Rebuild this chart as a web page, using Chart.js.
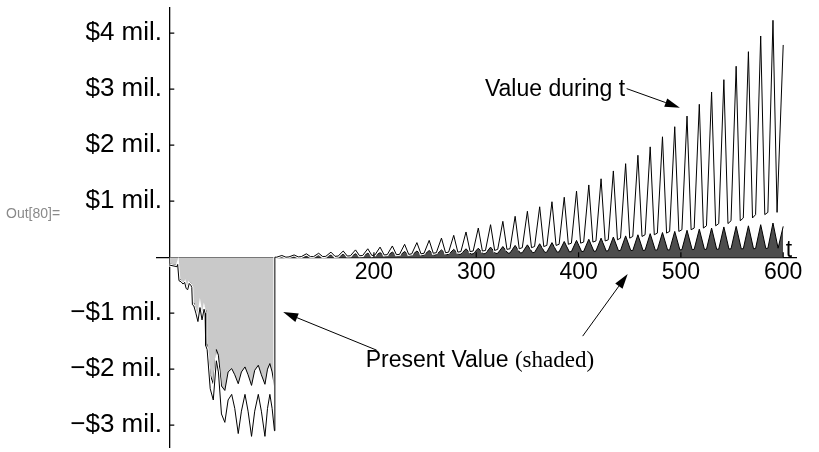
<!DOCTYPE html>
<html><head><meta charset="utf-8">
<script src="https://cdn.jsdelivr.net/npm/chart.js@4.4.1/dist/chart.umd.min.js"></script>
<style>
html,body{margin:0;padding:0;background:#fff;overflow:hidden}
#wrap{position:relative;width:819px;height:452px}
#out{position:absolute;left:6px;top:205px;font:14px "Liberation Sans",Arial,sans-serif;color:#8a8a8a}
canvas{position:absolute;left:0;top:0}
</style></head><body>
<div id="wrap"><canvas id="c" width="819" height="452"></canvas><div id="out">Out[80]=</div></div>
<script>
// ---- data (values in $ millions, t in periods) ----
// negative (start-up) phase
const negT = [0, 7.5, 8.2, 9.5, 11.5, 13.5, 15, 16.5, 18, 19.5, 21, 22, 22.6, 24, 26, 28, 30, 32, 34, 35, 35.6, 37, 40, 43, 46, 48, 51, 54.3, 57.5, 61, 64, 67.4, 70.5, 74, 77, 80.4, 83.5, 87, 90, 93.5, 96, 98.3, 100.5, 102.8];
const negPV = [-0.12, -0.15, -0.11, -0.38, -0.41, -0.45, -0.42, -0.52, -0.54, -0.44, -0.47, -0.50, -0.80, -0.82, -0.95, -1.10, -0.85, -1.05, -0.88, -0.95, -1.50, -1.57, -2.10, -2.26, -1.65, -1.75, -2.30, -2.38, -2.05, -1.99, -2.10, -2.26, -2.05, -1.96, -2.10, -2.29, -2.02, -1.93, -2.10, -2.27, -2.00, -1.90, -2.05, -2.30];
const negValue = [-0.14, -0.17, -0.13, -0.42, -0.44, -0.48, -0.45, -0.56, -0.58, -0.47, -0.50, -0.54, -0.85, -0.87, -1.00, -1.15, -0.90, -1.12, -0.93, -1.00, -1.58, -1.65, -2.35, -2.55, -1.85, -2.05, -2.80, -2.95, -2.55, -2.45, -2.70, -3.15, -2.75, -2.45, -2.75, -3.20, -2.75, -2.45, -2.75, -3.20, -2.70, -2.45, -2.70, -3.10];
const jumpT = 103.2;
// positive phase: one peak per cycle
const peakT = [110, 122, 134, 146, 158, 170, 182, 194, 206, 218, 230, 242, 254, 266, 278, 290, 302, 314, 326, 338, 350, 362, 374, 386, 398, 410, 422, 434, 446, 458, 470, 482, 494, 506, 518, 530, 542, 554, 566, 578, 590];
const valuePeak = [0.03, 0.04, 0.06, 0.07, 0.09, 0.11, 0.13, 0.15, 0.18, 0.20, 0.23, 0.26, 0.30, 0.34, 0.39, 0.45, 0.52, 0.58, 0.64, 0.73, 0.82, 0.90, 0.99, 1.07, 1.18, 1.29, 1.40, 1.54, 1.67, 1.82, 1.97, 2.15, 2.33, 2.52, 2.73, 2.95, 3.17, 3.41, 3.67, 3.95, 4.23];
const valueTrough = [0.0, 0.005, 0.01, 0.01, 0.015, 0.02, 0.025, 0.03, 0.04, 0.045, 0.05, 0.06, 0.07, 0.08, 0.09, 0.10, 0.11, 0.12, 0.14, 0.15, 0.17, 0.19, 0.21, 0.23, 0.25, 0.27, 0.29, 0.31, 0.34, 0.37, 0.40, 0.43, 0.46, 0.49, 0.52, 0.56, 0.60, 0.65, 0.70, 0.76, 0.80];
const pvPeak = [0.01, 0.015, 0.02, 0.03, 0.04, 0.05, 0.06, 0.07, 0.08, 0.09, 0.10, 0.11, 0.12, 0.13, 0.14, 0.15, 0.16, 0.18, 0.19, 0.21, 0.22, 0.24, 0.26, 0.28, 0.30, 0.32, 0.34, 0.36, 0.38, 0.40, 0.42, 0.44, 0.46, 0.48, 0.50, 0.52, 0.54, 0.55, 0.56, 0.58, 0.61];
const pvTrough = [0.0, 0.0, 0.005, 0.01, 0.01, 0.015, 0.02, 0.02, 0.025, 0.03, 0.03, 0.035, 0.04, 0.045, 0.05, 0.055, 0.06, 0.065, 0.07, 0.075, 0.08, 0.085, 0.09, 0.095, 0.10, 0.105, 0.11, 0.115, 0.12, 0.12, 0.125, 0.13, 0.13, 0.135, 0.14, 0.14, 0.145, 0.15, 0.15, 0.155, 0.16];
const endT = 600;
const endValue = 3.79;
const endPV = 0.55;
// axes
const xTickValues = [200, 300, 400, 500, 600];
const xTickLabels = ['200', '300', '400', '500', '600'];
const yTickValues = [-3, -2, -1, 1, 2, 3, 4];
const yTickLabels = ['\u2212$3 mil.', '\u2212$2 mil.', '\u2212$1 mil.', '$1 mil.', '$2 mil.', '$3 mil.', '$4 mil.'];
const xAxisName = 't';
// annotations (each label is a list of [text, serif?] runs)
const annoTexts = [[['Value during t', false]], [['Present Value ', false], ['(shaded)', true]]];
const annoTextT = [308.5, 192];
const annoTextV = [2.87, -1.96];
const arrowFromT = [447, 202.6, 404];
const arrowFromV = [3.01, -1.66, -1.41];
const arrowToT = [499, 111.3, 448];
const arrowToV = [2.67, -0.98, -0.30];

// ---- build tables ----
function buildSeries(negY, peaks, troughs, rise, fall, endY) {
  const pts = negT.map((t, i) => ({x: t, y: negY[i]}));
  pts.push({x: jumpT, y: 0});
  peakT.forEach((tp, i) => {
    pts.push({x: tp - rise, y: troughs[i]});
    pts.push({x: tp, y: peaks[i]});
    pts.push({x: tp + fall, y: troughs[i]});
  });
  pts.push({x: endT, y: endY});
  return pts;
}
const valueData = buildSeries(negValue, valuePeak, valueTrough, 5, 4, endValue);
const pvData = buildSeries(negPV, pvPeak, pvTrough, 5, 5, endPV);

const FONT = '"Liberation Sans", Arial, Helvetica, sans-serif';
const SERIF = '"Liberation Serif", "Times New Roman", serif';
Chart.defaults.font.family = FONT;
Chart.defaults.font.size = 23;
Chart.defaults.color = '#000';

const zeroPad = s => { s.paddingLeft = 0; s.paddingRight = 0; s.paddingTop = 0; s.paddingBottom = 0; };

const decor = {
  id: 'decor',
  afterDraw(chart) {
    const ctx = chart.ctx, xs = chart.scales.x, ys = chart.scales.y;
    const x0 = xs.getPixelForValue(0), y0 = ys.getPixelForValue(0);
    ctx.save();
    ctx.strokeStyle = '#000';
    ctx.lineWidth = 1.2;
    ctx.beginPath();
    yTickValues.forEach(v => { const p = ys.getPixelForValue(v); ctx.moveTo(x0, p); ctx.lineTo(x0 + 5, p); });
    xTickValues.forEach(v => { const p = xs.getPixelForValue(v); ctx.moveTo(p, y0); ctx.lineTo(p, y0 - 5); });
    ctx.stroke();
    // axis name
    ctx.fillStyle = '#000';
    ctx.font = '23px ' + FONT;
    ctx.textAlign = 'center';
    ctx.textBaseline = 'middle';
    ctx.fillText(xAxisName, xs.getPixelForValue(605.5), ys.getPixelForValue(0.125));
    // annotation texts
    ctx.textAlign = 'left';
    ctx.textBaseline = 'alphabetic';
    annoTexts.forEach((runs, i) => {
      let x = xs.getPixelForValue(annoTextT[i]);
      const y = ys.getPixelForValue(annoTextV[i]);
      runs.forEach(([s, serif]) => {
        ctx.font = '23px ' + (serif ? SERIF : FONT);
        ctx.fillText(s, x, y);
        x += ctx.measureText(s).width;
      });
    });
    // arrows
    ctx.lineWidth = 1;
    arrowFromT.forEach((t, i) => {
      const ax = xs.getPixelForValue(t), ay = ys.getPixelForValue(arrowFromV[i]);
      const bx = xs.getPixelForValue(arrowToT[i]), by = ys.getPixelForValue(arrowToV[i]);
      const ang = Math.atan2(by - ay, bx - ax), L = 15, W = 4.5;
      const hx = bx - L * Math.cos(ang), hy = by - L * Math.sin(ang);
      ctx.beginPath(); ctx.moveTo(ax, ay); ctx.lineTo(hx, hy); ctx.stroke();
      ctx.beginPath();
      ctx.moveTo(bx, by);
      ctx.lineTo(hx + W * Math.sin(ang), hy - W * Math.cos(ang));
      ctx.lineTo(hx - W * Math.sin(ang), hy + W * Math.cos(ang));
      ctx.closePath(); ctx.fill();
    });
    ctx.restore();
  }
};

new Chart(document.getElementById('c'), {
  type: 'line',
  data: {
    datasets: [
      {data: valueData, borderColor: '#000', borderWidth: 1, fill: false, pointRadius: 0, tension: 0},
      {data: valueData, borderColor: '#fff', borderWidth: 3, fill: false, pointRadius: 0, tension: 0},
      {data: pvData, borderColor: '#000', borderWidth: 1, pointRadius: 0, tension: 0,
       fill: {target: 'origin', above: '#4d4d4d', below: '#c9c9c9'}}
    ]
  },
  options: {
    responsive: false, animation: false, devicePixelRatio: 1,
    layout: {padding: {left: 157, right: 23, top: 8, bottom: 5}},
    plugins: {legend: {display: false}, tooltip: {enabled: false}},
    scales: {
      x: {
        type: 'linear', min: -12, max: 612.5, position: {y: 0},
        grid: {display: true, drawOnChartArea: false, drawTicks: false},
        border: {display: true, color: '#000', width: 1.3},
        ticks: {padding: 2, callback: (v) => { const i = xTickValues.indexOf(v); return i >= 0 ? xTickLabels[i] : ''; }},
        afterBuildTicks: s => { s.ticks = xTickValues.map(v => ({value: v})); },
        afterFit: zeroPad
      },
      y: {
        type: 'linear', min: -3.39, max: 4.45, position: {x: 0},
        grid: {display: true, drawOnChartArea: false, drawTicks: false},
        border: {display: true, color: '#000', width: 1.3},
        ticks: {font: {size: 26}, callback: (v) => { const i = yTickValues.indexOf(v); return i >= 0 ? yTickLabels[i] + ' ' : ''; }},
        afterBuildTicks: s => { s.ticks = yTickValues.map(v => ({value: v})); },
        afterFit: zeroPad
      }
    }
  },
  plugins: [decor]
});
</script>
</body></html>
